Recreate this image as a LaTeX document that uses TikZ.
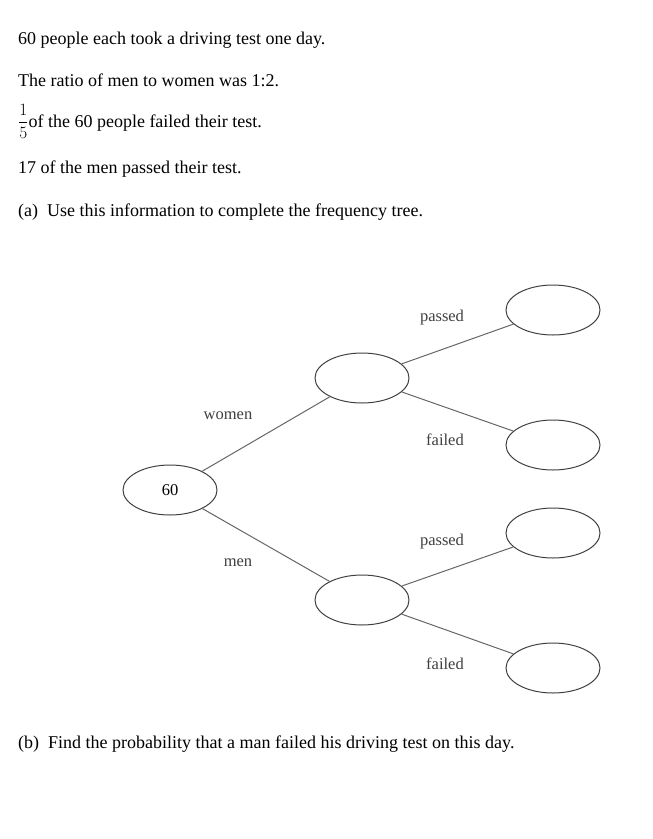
\documentclass[tikz,border=0pt]{standalone}
\usepackage{fontspec}
\setmainfont{Liberation Serif}
\usetikzlibrary{shapes.geometric}
\begin{document}
\begin{tikzpicture}[x=1pt,y=-1pt,
  oval/.style={draw=black!75,line width=1pt,ellipse,minimum width=94pt,minimum height=50pt,inner sep=0pt},
  br/.style={draw=black!60,line width=1pt},
  lab/.style={font=\fontsize{16.5}{18}\selectfont,text=black!75},
  txt/.style={anchor=base west,font=\fontsize{18}{20}\selectfont,inner sep=0pt}]
\useasboundingbox (0,0) rectangle (653,839);
\node[txt] (t1) at (18,44) {60 people each took a driving test one day.};
\node[txt] (t2) at (18,86) {The ratio of men to women was 1:2.};
\node[txt] (t3) at (18,127) {$\displaystyle\frac{1}{5}$of the 60 people failed their test.};
\node[txt] (t4) at (18,173) {17 of the men passed their test.};
\node[txt] (t5) at (18,216) {(a)\ \ Use this information to complete the frequency tree.};
\node[txt] (t6) at (18,748) {(b)\ \ Find the probability that a man failed his driving test on this day.};
\node[oval] (r) at (170,490) {\fontsize{16.5}{18}\selectfont 60};
\node[oval] (w) at (362,378) {};
\node[oval] (m) at (362,600) {};
\node[oval] (wp) at (553,310) {};
\node[oval] (wf) at (553,445) {};
\node[oval] (mp) at (553,533) {};
\node[oval] (mf) at (553,668) {};
\draw[br] (r) -- (w); \draw[br] (r) -- (m);
\draw[br] (w) -- (wp); \draw[br] (w) -- (wf);
\draw[br] (m) -- (mp); \draw[br] (m) -- (mf);
\node[lab] (lw) at (228,416) {women};
\node[lab] (lm) at (238,563) {men};
\node[lab] (l1) at (442,318) {passed};
\node[lab] (l2) at (445,440) {failed};
\node[lab] (l3) at (442,542) {passed};
\node[lab] (l4) at (445,664) {failed};
\end{tikzpicture}
\end{document}
